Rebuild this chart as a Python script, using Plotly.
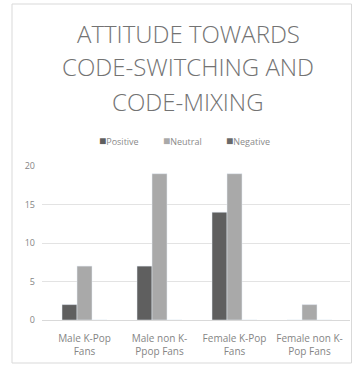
import plotly.graph_objects as go

categories = ["Male K-Pop<br>Fans", "Male non K-<br>Ppop Fans", "Female K-Pop<br>Fans", "Female non K-<br>Pop Fans"]
series_names = ["Positive", "Neutral", "Negative"]
positive = [2, 7, 14, 0]
neutral = [7, 19, 19, 2]
negative = [0, 0, 0, 0]
title_lines = ["ATTITUDE TOWARDS", "CODE-SWITCHING AND", "CODE-MIXING"]
y_ticks = [0, 5, 10, 15, 20]

colors = ["#5f5f5f", "#a9a9a9", "#6a6a6a"]

W, H = 353, 370
ML, MR, MT, MB = 42, 3, 166, 50
PW = W - ML - MR
PH = H - MT - MB

def px_x(px):
    return (px - ML) / PW

def px_y(py):
    return (H - MB - py) / PH

fig = go.Figure()
for name, vals, c in zip(series_names, [positive, neutral, negative], colors):
    fig.add_trace(go.Bar(name=name, x=categories, y=vals, marker_color=c, showlegend=False))

annotations = []
for txt, py in zip(title_lines, [33.5, 66.5, 101.5]):
    annotations.append(dict(text=txt, x=px_x(188), y=px_y(py), xref="paper", yref="paper",
                            xanchor="center", yanchor="middle", showarrow=False,
                            font=dict(family="Open Sans", size=24, color="#737373", weight=300)))

# legend entries (square marker + label)
for name, c, px in zip(series_names, colors, [97, 161, 224]):
    annotations.append(dict(text=f'<span style="color:{c};font-size:12px">■</span>{name}',
                            x=px_x(px), y=px_y(140), xref="paper", yref="paper",
                            xanchor="left", yanchor="middle", showarrow=False,
                            font=dict(family="Open Sans", size=9, color="#8a8a8a")))

fig.update_layout(
    width=W, height=H,
    margin=dict(l=ML, r=MR, t=MT, b=MB),
    paper_bgcolor="white", plot_bgcolor="white",
    barmode="group", bargap=0.4, bargroupgap=0,
    annotations=annotations,
    showlegend=False,
    shapes=[dict(type="rect", xref="paper", yref="paper",
                 x0=px_x(12), x1=px_x(351.5), y0=px_y(363), y1=px_y(4),
                 line=dict(color="#d9d9d9", width=1), layer="below")],
)
fig.update_xaxes(range=[-0.567, 3.54], showgrid=False, showline=False, ticks="",
                 tickfont=dict(family="Open Sans", size=10, color="#858585"), ticklabelstandoff=11)
fig.update_yaxes(range=[0, 20], tickvals=y_ticks, showgrid=True, gridcolor="#e3e3e3", gridwidth=1,
                 zeroline=True, zerolinecolor="#d9d9d9", zerolinewidth=1, showline=False, ticks="",
                 tickfont=dict(family="Open Sans", size=9, color="#858585"), ticklabelstandoff=6)

fig.write_html("out.html")
